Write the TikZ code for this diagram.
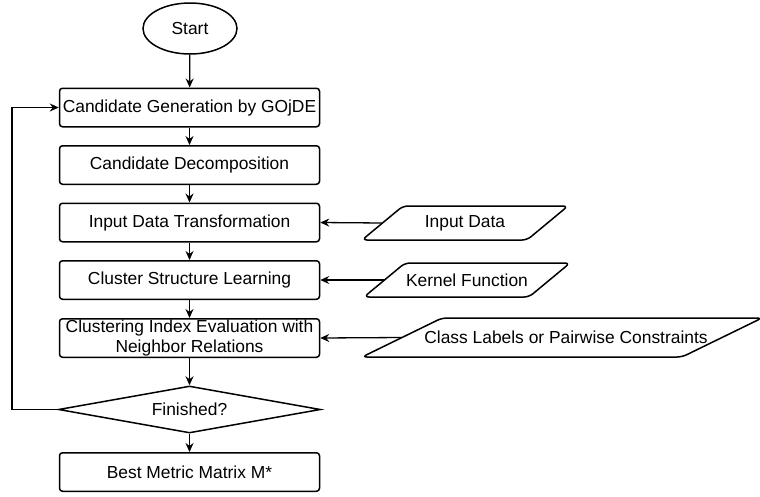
\documentclass[tikz,border=0pt]{standalone}
\usepackage{fontspec}
\setmainfont{Liberation Sans}
\usetikzlibrary{arrows.meta,shapes.geometric}
\begin{document}
\begin{tikzpicture}[x=1pt,y=-1pt,
  line width=1.5pt,
  every node/.style={font=\fontsize{17.4}{20}\selectfont},
  proc/.style={draw, rounded corners=3pt, minimum width=260pt, minimum height=38.5pt, inner sep=0pt, align=center},
  term/.style={draw, ellipse, minimum width=94pt, minimum height=51pt, inner sep=0pt},
  decide/.style={draw, diamond, shape aspect=5, minimum width=262pt, minimum height=47pt, inner sep=0pt},
  iobox/.style={draw, rounded corners=5pt},
  arr/.style={line width=1.3pt,-{Stealth[length=9pt,width=8pt,inset=3pt]}}
]
\useasboundingbox (0,0) rectangle (760,496);

\node[term] (start) at (190,28.5) {Start};
\node[proc] (gen) at (189.5,107.5) {Candidate Generation by GOjDE};
\node[proc] (dec) at (189.5,165) {Candidate Decomposition};
\node[proc] (trans) at (189.5,222.5) {Input Data Transformation};
\node[proc] (learn) at (189.5,280) {Cluster Structure Learning};
\node[proc] (eval) at (189.5,338) {Clustering Index Evaluation with\\Neighbor Relations};
\node[decide] (fin) at (189.5,409.5) {Finished?};
\node[proc] (best) at (189.5,472) {Best Metric Matrix M*};

% input parallelograms
\draw[iobox] (465,240) -- (362,240) -- (403,206) -- (568,206) -- (527,240) -- cycle;
\node (indata) at (465,223) {Input Data};
\coordinate (inL) at (382.5,223);

\draw[iobox] (467,297) -- (364,297) -- (405,263) -- (570,263) -- (529,297) -- cycle;
\node (kernel) at (467,280) {Kernel Function};
\coordinate (kerL) at (384.5,280);

\draw[iobox] (562,357) -- (362,357) -- (442,318) -- (762,318) -- (682,357) -- cycle;
\node (labels) at (566,337.5) {Class Labels or Pairwise Constraints};
\coordinate (labL) at (402,337.5);

% flow
\draw[arr] (start) -- (gen);
\draw[arr] (gen) -- (dec);
\draw[arr] (dec) -- (trans);
\draw[arr] (trans) -- (learn);
\draw[arr] (learn) -- (eval);
\draw[arr] (eval) -- (fin);
\draw[arr] (fin) -- (best);

\coordinate (loop) at (12,409.5);
\draw[arr] (fin.west) -- (loop) |- (gen.west);

\draw[arr] (inL) -- (trans.east);
\draw[arr] (kerL) -- (learn.east);
\draw[arr] (labL) -- (eval.east);
\end{tikzpicture}
\end{document}
